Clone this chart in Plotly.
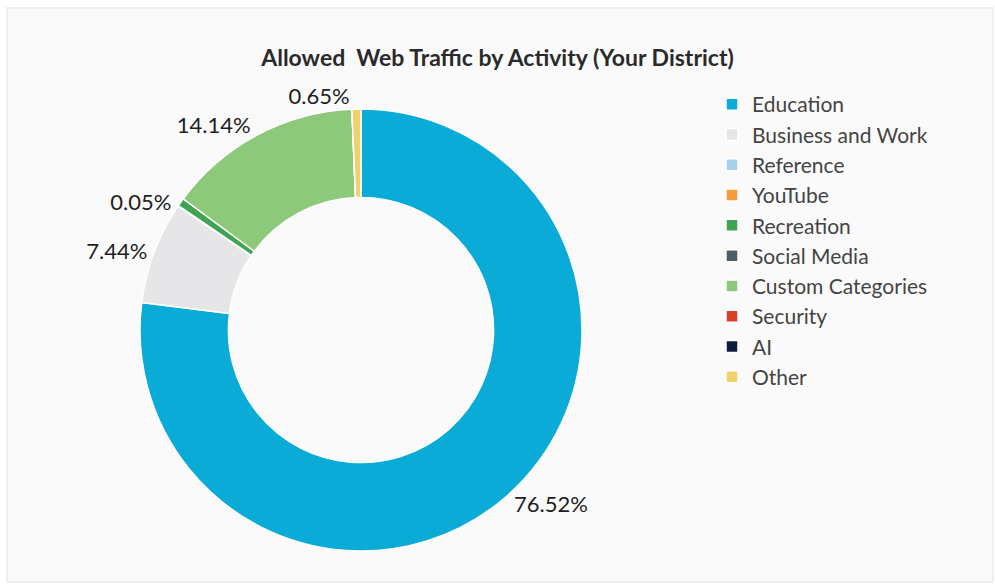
import plotly.graph_objects as go

categories = ["Education", "Business and Work", "Reference", "YouTube", "Recreation",
              "Social Media", "Custom Categories", "Security", "AI", "Other"]
values = [76.52, 7.44, 0.05, 0.0, 0.6, 0.0, 14.14, 0.0, 0.0, 0.65]
label_text = ["76.52%", "7.44%", "0.05%", "", "", "", "14.14%", "", "", "0.65%"]
colors = ["#0aabd7", "#e6e6e8", "#a8d0ef", "#f59b3c", "#3fa553",
          "#4d5f66", "#8dc97b", "#d9412a", "#0b1e3e", "#f2d06b"]

W, H = 995, 587
cx, cy, r = 361, 330, 221

fig = go.Figure(go.Pie(
    labels=categories,
    values=values,
    text=label_text,
    texttemplate="%{text}",
    textinfo="text",
    textposition="outside",
    hoverinfo="label+percent",
    sort=False,
    direction="clockwise",
    rotation=0,
    hole=0.6,
    marker=dict(colors=colors, line=dict(color="#ffffff", width=1.5)),
    textfont=dict(family="Lato", size=22, color="#1e1e1e"),
    domain=dict(x=[(cx - r) / W, (cx + r) / W], y=[(H - cy - r) / H, (H - cy + r) / H]),
))

fig.update_layout(
    width=W, height=H,
    margin=dict(l=0, r=0, t=0, b=0),
    paper_bgcolor="#ffffff",
    title=dict(text="<b>Allowed\u00a0 Web Traffic by Activity (Your District)</b>",
               x=0.5, xanchor="center", y=1 - 58 / H, yanchor="middle",
               font=dict(family="Lato", size=23, color="#2a2a2a")),
    legend=dict(x=712 / W, xanchor="left", y=1 - 84 / H, yanchor="top",
                font=dict(family="Lato", size=21, color="#444444"),
                bgcolor="rgba(0,0,0,0)", itemclick=False),
    shapes=[dict(type="rect", xref="paper", yref="paper", layer="below",
                 x0=7 / W, x1=993 / W, y0=1 - 582 / H, y1=1 - 8 / H,
                 fillcolor="#fafafa", line=dict(color="#efefef", width=2))],
)

fig.write_html("out.html", config={"displayModeBar": False},
               post_script="document.body.style.margin='0';document.body.style.padding='0';")
